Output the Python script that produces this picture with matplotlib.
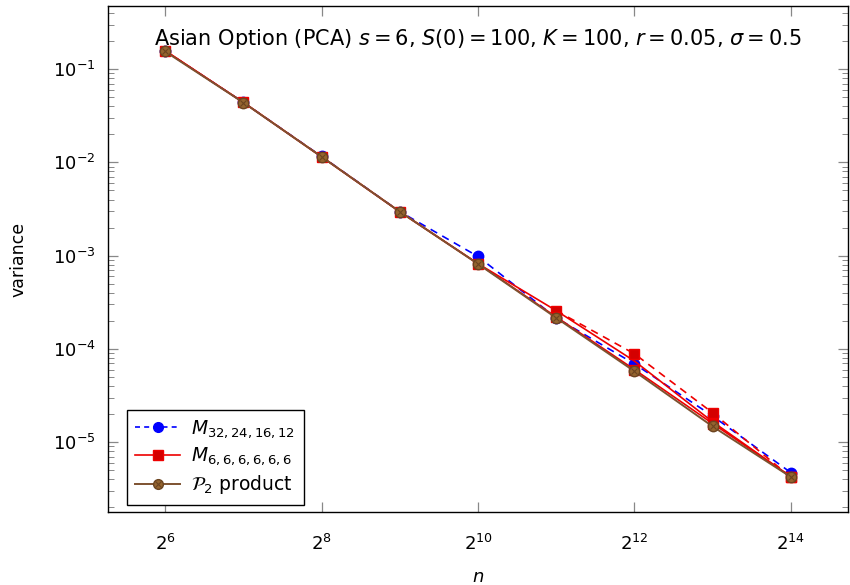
import matplotlib
matplotlib.use("Agg")
import matplotlib.pyplot as plt
from matplotlib.lines import Line2D
from matplotlib.ticker import LogLocator, FixedLocator, NullLocator, NullFormatter

plt.rcParams['font.family'] = ['DejaVu Sans']
plt.rcParams['mathtext.fontset'] = 'dejavusans'

# ---- data ----
n_exp = [6, 7, 8, 9, 10, 11, 12, 13, 14]
n_vals = [2 ** e for e in n_exp]

var_blue = [0.157, 0.0441, 0.0116, 0.00297, 9.8e-4, 2.15e-4, 6.9e-5, 1.9e-5, 4.7e-6]
var_red = [0.158, 0.0441, 0.0115, 0.00296, 8.2e-4, 2.2e-4, 6.0e-5, 1.58e-5, 4.25e-6]
var_red_b = [0.158, 0.0441, 0.0115, 0.00296, 8.2e-4, 2.57e-4, 7.4e-5, 1.65e-5, 4.25e-6]
n_red_dash = [2 ** e for e in [11, 12, 13, 14]]
var_red_dash = [2.57e-4, 8.85e-5, 2.06e-5, 4.2e-6]
var_brown = [0.155, 0.0439, 0.0115, 0.00296, 8.15e-4, 2.15e-4, 5.75e-5, 1.47e-5, 4.22e-6]

xtick_exp = [6, 8, 10, 12, 14]
ytick_exp = [-5, -4, -3, -2, -1]

title = r"Asian Option (PCA) $s = 6$, $S(0) = 100$, $K = 100$, $r = 0.05$, $\sigma = 0.5$"

BLUE = '#0000ff'
RED = '#ee0000'
REDFILL = '#d40000'
BROWN_LINE = '#7d5230'
BROWN_FILL = '#94642f'
BROWN_EDGE = '#6b4420'

fig = plt.figure(figsize=(8.5, 5.85), dpi=100)
ax = fig.add_axes([108 / 850, 1 - 512 / 585, (848 - 108) / 850, (512 - 6) / 585])
ax.set_xscale('log', base=2)
ax.set_yscale('log')

ax.plot(n_vals, var_blue, color=BLUE, linestyle=(0, (4.5, 3.5)), linewidth=1.2,
        marker='o', markersize=7.5, markerfacecolor=BLUE, markeredgecolor=BLUE, zorder=3)
ax.plot(n_vals, var_red_b, color=RED, linestyle='-', linewidth=1.2, zorder=4)
ax.plot(n_red_dash, var_red_dash, color=RED, linestyle=(0, (4.5, 3.5)), linewidth=1.2,
        marker='s', markersize=7.5, markerfacecolor=REDFILL, markeredgecolor=RED, zorder=4)
ax.plot(n_vals, var_red, color=RED, linestyle='-', linewidth=1.2,
        marker='s', markersize=7.5, markerfacecolor=REDFILL, markeredgecolor=RED, zorder=4)
ax.plot(n_vals, var_brown, color=BROWN_LINE, linestyle='-', linewidth=1.4,
        marker='o', markersize=7.5, markerfacecolor=BROWN_FILL, markeredgecolor=BROWN_EDGE, zorder=5)
ax.plot(n_vals, var_brown, linestyle='none', marker='x', markersize=5,
        markeredgecolor=BROWN_EDGE, markeredgewidth=0.8, zorder=6)

ax.set_xlim(2 ** 5.27, 2 ** 14.73)
ax.set_ylim(10 ** -5.75, 10 ** -0.322)

ax.xaxis.set_major_locator(FixedLocator([2 ** e for e in xtick_exp]))
ax.set_xticklabels([r"$2^{%d}$" % e for e in xtick_exp])
ax.xaxis.set_minor_locator(NullLocator())
ax.yaxis.set_major_locator(FixedLocator([10.0 ** e for e in ytick_exp]))
ax.set_yticklabels([r"$10^{%d}$" % e for e in ytick_exp])
ax.yaxis.set_minor_locator(LogLocator(base=10, subs=range(2, 10), numticks=20))
ax.yaxis.set_minor_formatter(NullFormatter())

ax.tick_params(which='both', direction='in', top=True, right=True, color='#888888',
               labelsize=13)
ax.tick_params(which='major', length=7, width=0.9)
ax.tick_params(axis='x', which='major', pad=16)
ax.tick_params(axis='y', which='major', pad=9)
ax.tick_params(which='minor', length=4, width=0.7)
for s in ax.spines.values():
    s.set_linewidth(1.0)

ax.text(0.5, 0.935, title, transform=ax.transAxes, ha='center', va='center', fontsize=15)
ax.set_xlabel(r"$n$", fontsize=13, labelpad=10)
ax.set_ylabel("variance", fontsize=12.5, labelpad=18)

h_blue = Line2D([], [], color=BLUE, linestyle=(0, (3, 2.5)), linewidth=1.2, marker='o',
                markersize=7, markerfacecolor=BLUE, markeredgecolor=BLUE)
h_red = Line2D([], [], color=RED, linestyle='-', linewidth=1.2, marker='s',
               markersize=7, markerfacecolor=REDFILL, markeredgecolor=RED)
h_brown = Line2D([], [], color=BROWN_LINE, linestyle='-', linewidth=1.4, marker='o',
                 markersize=7, markerfacecolor=BROWN_FILL, markeredgecolor=BROWN_EDGE)
h_brown_x = Line2D([], [], linestyle='none', marker='x', markersize=4.5,
                   markeredgecolor=BROWN_EDGE, markeredgewidth=0.8)
leg = ax.legend([h_blue, h_red, (h_brown, h_brown_x)],
                [r"$M_{32,24,16,12}$", r"$M_{6,6,6,6,6,6}$", r"$\mathcal{P}_2$ product"],
                loc='lower left', bbox_to_anchor=(0.015, 0.0), fontsize=13.5,
                frameon=True, fancybox=False, edgecolor='black', framealpha=1,
                handlelength=2.4, handletextpad=0.6, borderpad=0.45, labelspacing=0.3,
                borderaxespad=0.4)
leg.get_frame().set_linewidth(1.0)

fig.savefig("out.png", dpi=100)
